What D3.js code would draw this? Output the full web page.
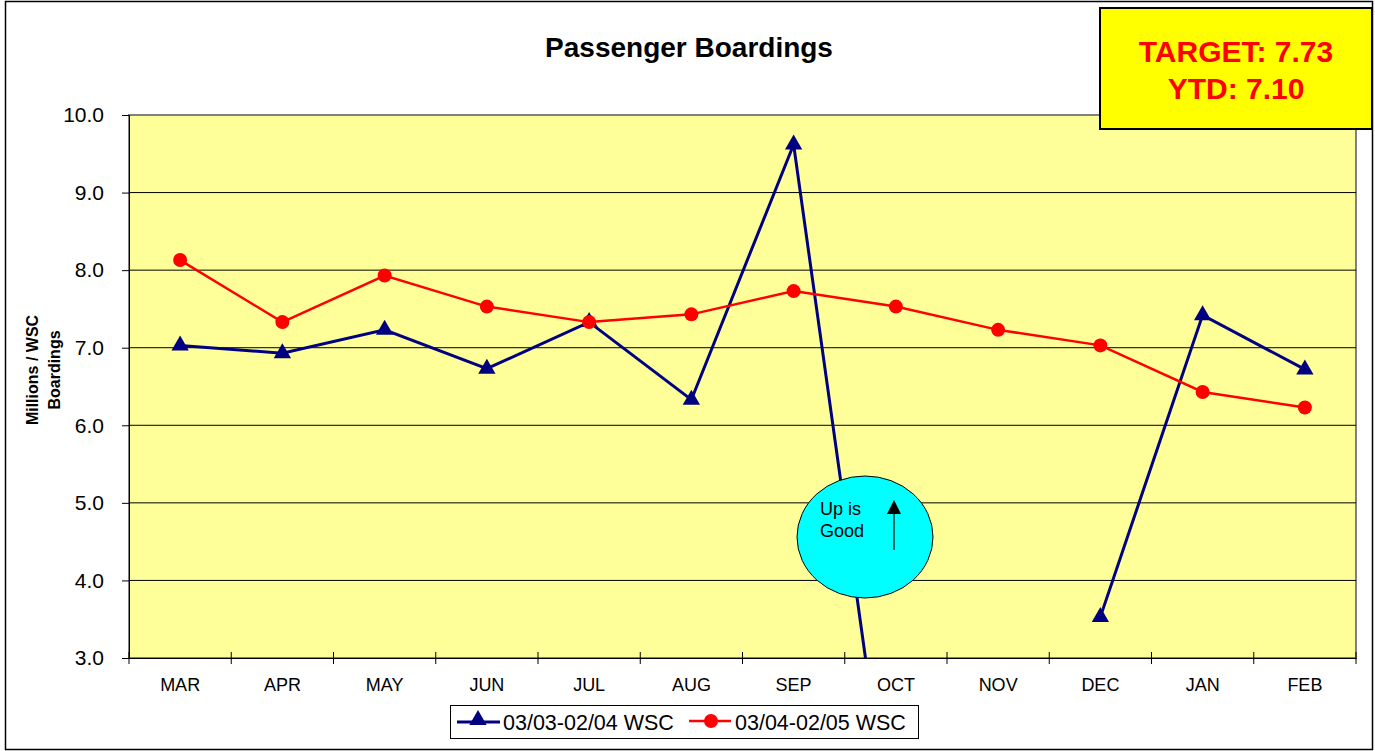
<!DOCTYPE html>
<html>
<head>
<meta charset="utf-8">
<script src="https://cdn.jsdelivr.net/npm/d3@7"></script>
<style>
  body { margin: 0; background: #fff; }
  svg { font-family: "Liberation Sans", Arial, sans-serif; }
</style>
</head>
<body>
<script>
// data
var months = ['MAR','APR','MAY','JUN','JUL','AUG','SEP','OCT','NOV','DEC','JAN','FEB']
var prevYear = [7.03, 6.93, 7.23, 6.73, 7.33, 6.33, 9.62, 0.2, null, 3.53, 7.42, 6.72]
var thisYear = [8.13, 7.33, 7.93, 7.53, 7.33, 7.43, 7.73, 7.53, 7.23, 7.03, 6.43, 6.23]
var yTicks = [3, 4, 5, 6, 7, 8, 9, 10]
var seriesNames = ['03/03-02/04 WSC', '03/04-02/05 WSC']
var target = 7.73, ytd = 7.10

var W = 1375, H = 751
var pLeft = 129, pRight = 1356, pTop = 115, pBottom = 658

var svg = d3.select('body').append('svg')
  .attr('width', W).attr('height', H)

// outer frame
svg.append('rect')
  .attr('x', 5.5).attr('y', 1.5).attr('width', 1367).attr('height', 748)
  .attr('fill', '#fff').attr('stroke', '#000').attr('stroke-width', 1.5)

var x = d3.scaleBand().domain(months).range([pLeft, pRight]).padding(0)
var y = d3.scaleLinear().domain([3, 10]).range([pBottom, pTop])

// plot area
svg.append('rect')
  .attr('x', pLeft).attr('y', pTop)
  .attr('width', pRight - pLeft).attr('height', pBottom - pTop)
  .attr('fill', '#ffff99').attr('stroke', '#808080').attr('stroke-width', 2)

// grid lines
svg.append('g').selectAll('line')
  .data(yTicks.slice(1, -1))
  .enter().append('line')
  .attr('x1', pLeft).attr('x2', pRight)
  .attr('y1', function(d){ return y(d) }).attr('y2', function(d){ return y(d) })
  .attr('stroke', '#000').attr('stroke-width', 1)

// y axis
var yAxis = svg.append('g')
  .attr('transform', 'translate(' + pLeft + ',0)')
  .call(d3.axisLeft(y).tickValues(yTicks).tickFormat(d3.format('.1f')).tickSize(7).tickPadding(18))
yAxis.select('.domain').attr('stroke', '#000')
yAxis.selectAll('text').attr('font-size', 21).attr('fill', '#000')
  .attr('font-family', '"Liberation Sans", Arial, sans-serif')

// x axis
var xAxis = svg.append('g')
  .attr('transform', 'translate(0,' + pBottom + ')')
  .call(d3.axisBottom(x).tickSize(0).tickPadding(20))
xAxis.select('.domain').attr('stroke', '#000')
xAxis.selectAll('text').attr('font-size', 18).attr('fill', '#000')
  .attr('font-family', '"Liberation Sans", Arial, sans-serif')
// tick marks between categories
svg.append('g').selectAll('line')
  .data(months.concat(['end']))
  .enter().append('line')
  .attr('x1', function(d){ return d === 'end' ? pRight : x(d) })
  .attr('x2', function(d){ return d === 'end' ? pRight : x(d) })
  .attr('y1', pBottom - 6).attr('y2', pBottom + 6)
  .attr('stroke', '#000')

// clip for lines
svg.append('clipPath').attr('id', 'plotclip')
  .append('rect').attr('x', pLeft).attr('y', pTop - 10)
  .attr('width', pRight - pLeft).attr('height', pBottom - pTop + 10)

var cx = function(d, i){ return x(months[i]) + x.bandwidth() / 2 }
var line = d3.line()
  .defined(function(d){ return d !== null })
  .x(cx)
  .y(function(d){ return y(d) })

var tri = d3.symbol().type(d3.symbolTriangle).size(130)

// blue series
svg.append('path')
  .datum(prevYear)
  .attr('clip-path', 'url(#plotclip)')
  .attr('d', line)
  .attr('fill', 'none').attr('stroke', '#000080').attr('stroke-width', 3)

var bluePts = prevYear
  .map(function(v, i){ return {v: v, i: i} })
  .filter(function(p){ return p.v !== null && p.v >= 3 })

svg.append('g').selectAll('path')
  .data(bluePts)
  .enter().append('path')
  .attr('d', tri)
  .attr('transform', function(p){ return 'translate(' + cx(p.v, p.i) + ',' + y(p.v) + ')' })
  .attr('fill', '#000080')

// red series
svg.append('path')
  .datum(thisYear)
  .attr('d', line)
  .attr('fill', 'none').attr('stroke', '#ff0000').attr('stroke-width', 2.5)

svg.append('g').selectAll('circle')
  .data(thisYear)
  .enter().append('circle')
  .attr('cx', cx)
  .attr('cy', function(d){ return y(d) })
  .attr('r', 7)
  .attr('fill', '#ff0000')

// title
svg.append('text')
  .attr('x', 689).attr('y', 57)
  .attr('text-anchor', 'middle')
  .attr('font-size', 28).attr('font-weight', 'bold')
  .text('Passenger Boardings')

// y axis label
var yl = svg.append('text')
  .attr('transform', 'translate(38,370) rotate(-90)')
  .attr('text-anchor', 'middle')
  .attr('font-size', 16).attr('font-weight', 'bold')
yl.append('tspan').attr('x', 0).attr('dy', 0).text('Millions / WSC')
yl.append('tspan').attr('x', 0).attr('dy', 22).text('Boardings')

// "Up is Good" callout
svg.append('ellipse')
  .attr('cx', 865).attr('cy', 537).attr('rx', 68).attr('ry', 61)
  .attr('fill', '#00ffff').attr('stroke', '#000').attr('stroke-width', 1)
svg.append('text').attr('x', 820).attr('y', 515).attr('font-size', 18).text('Up is')
svg.append('text').attr('x', 820).attr('y', 537).attr('font-size', 18).text('Good')
svg.append('line')
  .attr('x1', 894).attr('x2', 894).attr('y1', 550).attr('y2', 512)
  .attr('stroke', '#000').attr('stroke-width', 1.2)
svg.append('path')
  .attr('d', 'M887,514 L894,500 L901,514 Z')
  .attr('fill', '#000')

// target box
svg.append('rect')
  .attr('x', 1100).attr('y', 8).attr('width', 272).attr('height', 121)
  .attr('fill', '#ffff00').attr('stroke', '#000').attr('stroke-width', 2)
svg.append('text')
  .attr('x', 1236).attr('y', 62)
  .attr('text-anchor', 'middle').attr('font-size', 30).attr('font-weight', 'bold')
  .attr('fill', '#ff0000')
  .text('TARGET: ' + target.toFixed(2))
svg.append('text')
  .attr('x', 1236).attr('y', 99)
  .attr('text-anchor', 'middle').attr('font-size', 30).attr('font-weight', 'bold')
  .attr('fill', '#ff0000')
  .text('YTD: ' + ytd.toFixed(2))

// legend
var lg = svg.append('g')
lg.append('rect')
  .attr('x', 450.5).attr('y', 705.5).attr('width', 468).attr('height', 33)
  .attr('fill', '#fff').attr('stroke', '#000').attr('stroke-width', 1)
lg.append('line').attr('x1', 457).attr('x2', 500).attr('y1', 722).attr('y2', 722)
  .attr('stroke', '#000080').attr('stroke-width', 3)
lg.append('path').attr('d', tri).attr('transform', 'translate(478,720)').attr('fill', '#000080')
lg.append('text').attr('x', 503).attr('y', 730).attr('font-size', 21.5).text(seriesNames[0])
lg.append('line').attr('x1', 689).attr('x2', 731).attr('y1', 721).attr('y2', 721)
  .attr('stroke', '#ff0000').attr('stroke-width', 2.5)
lg.append('circle').attr('cx', 711).attr('cy', 721).attr('r', 7).attr('fill', '#ff0000')
lg.append('text').attr('x', 735).attr('y', 730).attr('font-size', 21.5).text(seriesNames[1])
</script>
</body>
</html>
